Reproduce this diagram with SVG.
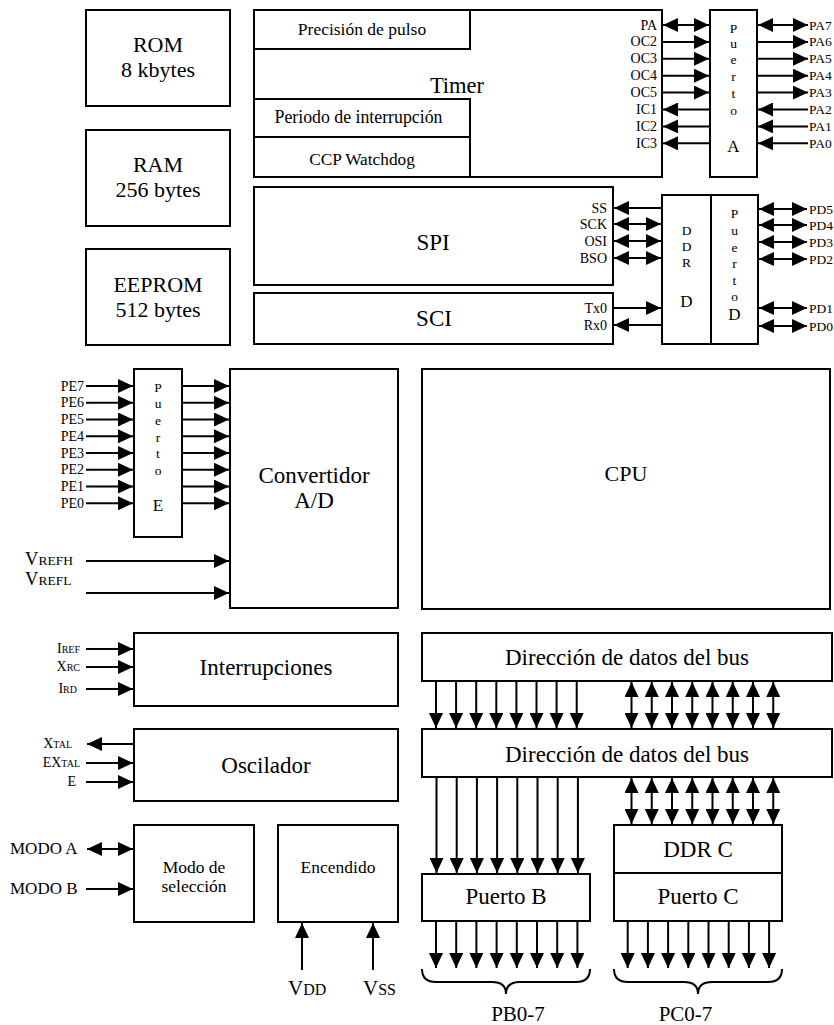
<svg xmlns="http://www.w3.org/2000/svg" width="834" height="1025" viewBox="0 0 834 1025" font-family="Liberation Serif, DejaVu Serif, serif">
<style>
text{font-family:'Liberation Serif','DejaVu Serif',serif;fill:#000}
.b{fill:#fff;stroke:#000;stroke-width:2}
.c{text-anchor:middle}
.e{text-anchor:end}
.L{font-size:23px}
.M{font-size:17.5px}
.S{font-size:14px}
.R{font-size:13.5px}
.P{font-size:17px}
.w line,.w path{stroke:#000;stroke-width:2;fill:none}
.a{marker-end:url(#ah)}
.d{marker-start:url(#ah);marker-end:url(#ah)}
</style>
<defs>
<marker id="ah" markerUnits="userSpaceOnUse" markerWidth="15" markerHeight="14" refX="15" refY="7" orient="auto-start-reverse"><path d="M0,0 L15,7 L0,14 z" fill="#000"/></marker>
</defs>
<rect width="834" height="1025" fill="#fff"/>

<g id="rom"><rect class="b" x="86" y="10" width="144" height="96"/><text class="c" x="158" y="52" font-size="22">ROM</text><text class="c" x="158" y="77" font-size="22">8 kbytes</text></g>
<g id="ram"><rect class="b" x="86" y="130" width="144" height="96"/><text class="c" x="158" y="172" font-size="22">RAM</text><text class="c" x="158" y="197" font-size="22">256 bytes</text></g>
<g id="eeprom"><rect class="b" x="86" y="249" width="144" height="96"/><text class="c" x="158" y="292" font-size="22">EEPROM</text><text class="c" x="158" y="317" font-size="22">512 bytes</text></g>

<g id="timer"><rect class="b" x="254" y="10" width="408" height="167"/>
<text class="c" x="457" y="93" font-size="22.5">Timer</text>
<rect class="b" x="254" y="10" width="216" height="39"/><text class="c M" x="362" y="35">Precisión de pulso</text>
<rect class="b" x="254" y="99" width="216" height="38"/><text class="c" x="358.5" y="123" font-size="17.8">Periodo de interrupción</text>
<rect class="b" x="254" y="137" width="216" height="40"/><text class="c" x="362" y="165" font-size="17.3">CCP Watchdog</text>
<g class="e S"><text x="657" y="29.5">PA</text><text x="657" y="46.4">OC2</text><text x="657" y="63.3">OC3</text><text x="657" y="80.2">OC4</text><text x="657" y="97.1">OC5</text><text x="657" y="114">IC1</text><text x="657" y="130.9">IC2</text><text x="657" y="147.8">IC3</text></g>
</g>

<g id="puertoA"><rect class="b" x="710" y="10" width="47" height="167"/>
<g class="c R"><text x="733.5" y="33">P</text><text x="733.5" y="48">u</text><text x="733.5" y="64">e</text><text x="733.5" y="81">r</text><text x="733.5" y="98">t</text><text x="733.5" y="115">o</text></g>
<text class="c P" x="733.5" y="152">A</text>
<g class="R"><text x="809" y="29.5">PA7</text><text x="809" y="46.4">PA6</text><text x="809" y="63.3">PA5</text><text x="809" y="80.2">PA4</text><text x="809" y="97.1">PA3</text><text x="809" y="114">PA2</text><text x="809" y="130.9">PA1</text><text x="809" y="147.8">PA0</text></g>
</g>

<g id="spi"><rect class="b" x="254" y="187" width="359" height="98"/><text class="c L" x="433" y="250">SPI</text>
<g class="e S"><text x="607" y="212.5">SS</text><text x="607" y="228.5">SCK</text><text x="607" y="245.5">OSI</text><text x="607" y="262.5">BSO</text></g></g>
<g id="sci"><rect class="b" x="254" y="293" width="359" height="51"/><text class="c L" x="434" y="326">SCI</text>
<g class="e S"><text x="607" y="312.5">Tx0</text><text x="607" y="329.5">Rx0</text></g></g>

<g id="ddrD"><rect class="b" x="662" y="195" width="49" height="149"/>
<g class="c R"><text x="686.5" y="235">D</text><text x="686.5" y="251">D</text><text x="686.5" y="267">R</text></g><text class="c P" x="686.5" y="307">D</text></g>
<g id="puertoD"><rect class="b" x="711" y="195" width="47" height="149"/>
<g class="c R"><text x="734.5" y="218">P</text><text x="734.5" y="235">u</text><text x="734.5" y="252">e</text><text x="734.5" y="268">r</text><text x="734.5" y="285">t</text><text x="734.5" y="301">o</text></g><text class="c P" x="734.5" y="320">D</text>
<g class="R"><text x="809" y="213.5">PD5</text><text x="809" y="229.5">PD4</text><text x="809" y="246.5">PD3</text><text x="809" y="263.5">PD2</text><text x="809" y="312.5">PD1</text><text x="809" y="330.5">PD0</text></g></g>

<g id="puertoE"><rect class="b" x="134" y="369" width="48" height="168"/>
<g class="c R"><text x="158" y="392">P</text><text x="158" y="408">u</text><text x="158" y="425">e</text><text x="158" y="442">r</text><text x="158" y="458">t</text><text x="158" y="475">o</text></g><text class="c P" x="158" y="511">E</text>
<g class="e S"><text x="84" y="390.5">PE7</text><text x="84" y="407.3">PE6</text><text x="84" y="424">PE5</text><text x="84" y="440.8">PE4</text><text x="84" y="457.5">PE3</text><text x="84" y="474.3">PE2</text><text x="84" y="491.1">PE1</text><text x="84" y="507.8">PE0</text></g>
<text x="25" y="565"><tspan font-size="18.5">V</tspan><tspan font-size="13.5">REFH</tspan></text>
<text x="25" y="585"><tspan font-size="18.5">V</tspan><tspan font-size="13.5">REFL</tspan></text>
</g>

<g id="convertidor"><rect class="b" x="230" y="369" width="168" height="239"/><text class="c L" x="314" y="483">Convertidor</text><text class="c L" x="314" y="508">A/D</text></g>
<g id="cpu"><rect class="b" x="422" y="369" width="408" height="240"/><text class="c" x="626" y="481" font-size="22">CPU</text></g>

<g id="interrupciones"><rect class="b" x="134" y="633" width="264" height="73"/><text class="c L" x="266" y="675">Interrupciones</text>
<g class="e"><text x="80" y="653"><tspan font-size="14">I</tspan><tspan font-size="10">REF</tspan></text><text x="80" y="671"><tspan font-size="14">X</tspan><tspan font-size="10">RC</tspan></text><text x="77" y="693"><tspan font-size="14">I</tspan><tspan font-size="10">RD</tspan></text></g></g>
<g id="oscilador"><rect class="b" x="134" y="729" width="264" height="72"/><text class="c L" x="266" y="773">Oscilador</text>
<g class="e"><text x="72" y="748"><tspan font-size="14">X</tspan><tspan font-size="10">TAL</tspan></text><text x="80" y="767"><tspan font-size="14">EX</tspan><tspan font-size="10">TAL</tspan></text><text x="76" y="786" font-size="14">E</text></g></g>

<g id="modo"><rect class="b" x="134" y="825" width="120" height="97"/><text class="c M" x="194" y="873">Modo de</text><text class="c M" x="194" y="892">selección</text>
<text x="10" y="854" font-size="17">MODO A</text><text x="10" y="894" font-size="17">MODO B</text></g>
<g id="encendido"><rect class="b" x="278" y="825" width="120" height="97"/><text class="c M" x="338" y="873">Encendido</text>
<text x="288" y="995"><tspan font-size="21">V</tspan><tspan font-size="16">DD</tspan></text>
<text x="363" y="995"><tspan font-size="21">V</tspan><tspan font-size="16">SS</tspan></text></g>

<g id="bus1"><rect class="b" x="422" y="633" width="410" height="48"/><text class="c L" x="627" y="665">Dirección de datos del bus</text></g>
<g id="bus2"><rect class="b" x="422" y="729" width="410" height="48"/><text class="c L" x="627" y="762">Dirección de datos del bus</text></g>
<g id="puertoB"><rect class="b" x="422" y="874" width="168" height="47"/><text class="c L" x="506" y="904">Puerto B</text></g>
<g id="ddrC"><rect class="b" x="614" y="825" width="168" height="48"/><text class="c L" x="698" y="857">DDR C</text></g>
<g id="puertoC"><rect class="b" x="614" y="873" width="168" height="48"/><text class="c L" x="698" y="904">Puerto C</text></g>
<g id="labels"><text class="c" x="518" y="1021" font-size="21">PB0-7</text><text class="c" x="685.5" y="1021" font-size="21">PC0-7</text></g>

<g id="connectors" class="w">
<line class="d" x1="663" y1="25" x2="709" y2="25"/>
<line class="a" x1="663" y1="41.9" x2="709" y2="41.9"/>
<line class="a" x1="663" y1="58.8" x2="709" y2="58.8"/>
<line class="a" x1="663" y1="75.7" x2="709" y2="75.7"/>
<line class="a" x1="663" y1="92.6" x2="709" y2="92.6"/>
<line class="a" x1="709" y1="109.5" x2="663" y2="109.5"/>
<line class="a" x1="709" y1="126.4" x2="663" y2="126.4"/>
<line class="a" x1="709" y1="143.3" x2="663" y2="143.3"/>
<line class="d" x1="758" y1="25" x2="808" y2="25"/>
<line class="a" x1="758" y1="41.9" x2="808" y2="41.9"/>
<line class="a" x1="758" y1="58.8" x2="808" y2="58.8"/>
<line class="a" x1="758" y1="75.7" x2="808" y2="75.7"/>
<line class="a" x1="758" y1="92.6" x2="808" y2="92.6"/>
<line class="a" x1="808" y1="109.5" x2="758" y2="109.5"/>
<line class="a" x1="808" y1="126.4" x2="758" y2="126.4"/>
<line class="a" x1="808" y1="143.3" x2="758" y2="143.3"/>

<line class="a" x1="661" y1="208" x2="614" y2="208"/>
<line class="d" x1="614" y1="224" x2="661" y2="224"/>
<line class="d" x1="614" y1="241" x2="661" y2="241"/>
<line class="d" x1="614" y1="258" x2="661" y2="258"/>
<line class="a" x1="614" y1="308" x2="661" y2="308"/>
<line class="a" x1="661" y1="325" x2="614" y2="325"/>
<line class="d" x1="759" y1="209" x2="807" y2="209"/>
<line class="d" x1="759" y1="225" x2="807" y2="225"/>
<line class="d" x1="759" y1="242" x2="807" y2="242"/>
<line class="d" x1="759" y1="259" x2="807" y2="259"/>
<line class="d" x1="759" y1="308" x2="807" y2="308"/>
<line class="d" x1="759" y1="326" x2="807" y2="326"/>

<line class="a" x1="86" y1="386" x2="133" y2="386"/>
<line class="a" x1="86" y1="402.8" x2="133" y2="402.8"/>
<line class="a" x1="86" y1="419.5" x2="133" y2="419.5"/>
<line class="a" x1="86" y1="436.3" x2="133" y2="436.3"/>
<line class="a" x1="86" y1="453" x2="133" y2="453"/>
<line class="a" x1="86" y1="469.8" x2="133" y2="469.8"/>
<line class="a" x1="86" y1="486.6" x2="133" y2="486.6"/>
<line class="a" x1="86" y1="503.3" x2="133" y2="503.3"/>
<line class="a" x1="182" y1="386" x2="229" y2="386"/>
<line class="a" x1="182" y1="402.8" x2="229" y2="402.8"/>
<line class="a" x1="182" y1="419.5" x2="229" y2="419.5"/>
<line class="a" x1="182" y1="436.3" x2="229" y2="436.3"/>
<line class="a" x1="182" y1="453" x2="229" y2="453"/>
<line class="a" x1="182" y1="469.8" x2="229" y2="469.8"/>
<line class="a" x1="182" y1="486.6" x2="229" y2="486.6"/>
<line class="a" x1="182" y1="503.3" x2="229" y2="503.3"/>
<line class="a" x1="86" y1="561" x2="229" y2="561"/>
<line class="a" x1="86" y1="593" x2="229" y2="593"/>

<line class="a" x1="86" y1="649" x2="133" y2="649"/>
<line class="a" x1="86" y1="667" x2="133" y2="667"/>
<line class="a" x1="86" y1="689" x2="133" y2="689"/>
<line class="a" x1="134" y1="744" x2="87" y2="744"/>
<line class="a" x1="86" y1="763" x2="133" y2="763"/>
<line class="a" x1="86" y1="782" x2="133" y2="782"/>
<line class="d" x1="87" y1="849" x2="133" y2="849"/>
<line class="a" x1="86" y1="889" x2="133" y2="889"/>
<line class="a" x1="302" y1="970" x2="302" y2="923"/>
<line class="a" x1="373" y1="970" x2="373" y2="923"/>

<line class="a" x1="436" y1="682" x2="436" y2="728"/>
<line class="a" x1="456.1" y1="682" x2="456.1" y2="728"/>
<line class="a" x1="476.2" y1="682" x2="476.2" y2="728"/>
<line class="a" x1="496.3" y1="682" x2="496.3" y2="728"/>
<line class="a" x1="516.4" y1="682" x2="516.4" y2="728"/>
<line class="a" x1="536.5" y1="682" x2="536.5" y2="728"/>
<line class="a" x1="556.6" y1="682" x2="556.6" y2="728"/>
<line class="a" x1="576.7" y1="682" x2="576.7" y2="728"/>
<line class="d" x1="631.5" y1="682" x2="631.5" y2="728"/>
<line class="d" x1="651.75" y1="682" x2="651.75" y2="728"/>
<line class="d" x1="672" y1="682" x2="672" y2="728"/>
<line class="d" x1="692.25" y1="682" x2="692.25" y2="728"/>
<line class="d" x1="712.5" y1="682" x2="712.5" y2="728"/>
<line class="d" x1="732.75" y1="682" x2="732.75" y2="728"/>
<line class="d" x1="753" y1="682" x2="753" y2="728"/>
<line class="d" x1="773.25" y1="682" x2="773.25" y2="728"/>

<line class="a" x1="436.5" y1="778" x2="436.5" y2="873"/>
<line class="a" x1="456.7" y1="778" x2="456.7" y2="873"/>
<line class="a" x1="476.9" y1="778" x2="476.9" y2="873"/>
<line class="a" x1="497.1" y1="778" x2="497.1" y2="873"/>
<line class="a" x1="517.3" y1="778" x2="517.3" y2="873"/>
<line class="a" x1="537.5" y1="778" x2="537.5" y2="873"/>
<line class="a" x1="557.7" y1="778" x2="557.7" y2="873"/>
<line class="a" x1="577.9" y1="778" x2="577.9" y2="873"/>
<line class="d" x1="631.5" y1="778" x2="631.5" y2="824"/>
<line class="d" x1="651.75" y1="778" x2="651.75" y2="824"/>
<line class="d" x1="672" y1="778" x2="672" y2="824"/>
<line class="d" x1="692.25" y1="778" x2="692.25" y2="824"/>
<line class="d" x1="712.5" y1="778" x2="712.5" y2="824"/>
<line class="d" x1="732.75" y1="778" x2="732.75" y2="824"/>
<line class="d" x1="753" y1="778" x2="753" y2="824"/>
<line class="d" x1="773.25" y1="778" x2="773.25" y2="824"/>

<line class="a" x1="436" y1="922" x2="436" y2="968"/>
<line class="a" x1="456.2" y1="922" x2="456.2" y2="968"/>
<line class="a" x1="476.4" y1="922" x2="476.4" y2="968"/>
<line class="a" x1="496.6" y1="922" x2="496.6" y2="968"/>
<line class="a" x1="516.8" y1="922" x2="516.8" y2="968"/>
<line class="a" x1="537" y1="922" x2="537" y2="968"/>
<line class="a" x1="557.2" y1="922" x2="557.2" y2="968"/>
<line class="a" x1="577.4" y1="922" x2="577.4" y2="968"/>
<line class="a" x1="627.7" y1="922" x2="627.7" y2="968"/>
<line class="a" x1="647.9" y1="922" x2="647.9" y2="968"/>
<line class="a" x1="668.1" y1="922" x2="668.1" y2="968"/>
<line class="a" x1="688.3" y1="922" x2="688.3" y2="968"/>
<line class="a" x1="708.5" y1="922" x2="708.5" y2="968"/>
<line class="a" x1="728.7" y1="922" x2="728.7" y2="968"/>
<line class="a" x1="748.9" y1="922" x2="748.9" y2="968"/>
<line class="a" x1="769.1" y1="922" x2="769.1" y2="968"/>

<path d="M422,969 Q422,982 436,982 L492,982 Q506,982 506,994 Q506,982 520,982 L576,982 Q590,982 590,969"/>
<path d="M614,969 Q614,982 628,982 L684,982 Q698,982 698,994 Q698,982 712,982 L768,982 Q782,982 782,969"/>
</g>
</svg>
